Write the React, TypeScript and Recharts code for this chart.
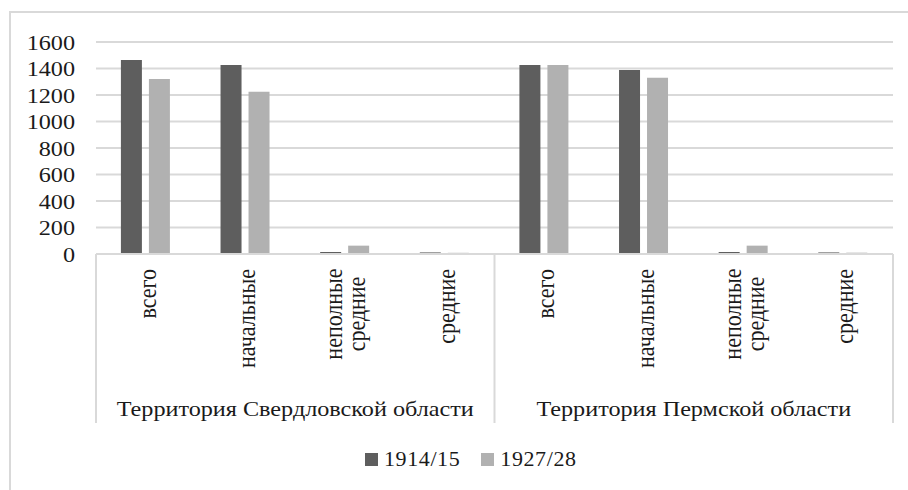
import React from "react";
import { BarChart, Bar, XAxis, YAxis, CartesianGrid, Legend } from "recharts";

const categories = ["всего", "начальные", "неполные средние", "средние"];
const regions = ["Территория Свердловской области", "Территория Пермской области"];
const seriesNames = ["1914/15", "1927/28"];
const sverdlovsk1914 = [1464, 1426, 15, 12];
const sverdlovsk1927 = [1321, 1225, 63, 9];
const perm1914 = [1426, 1389, 15, 12];
const perm1927 = [1426, 1331, 63, 10];
const yTicks = [0, 200, 400, 600, 800, 1000, 1200, 1400, 1600];

const FONT = '"Liberation Serif", "Times New Roman", serif';
const TEXT = "#1a1a1a";
const LINE = "#d9d9d9";
const SX = 1.1; // the source picture is a bit wider than tall
const textStyle = { fontFamily: FONT, fontSize: 22, fill: TEXT };

const data = regions.flatMap((region, ri) =>
  categories.map((label, ci) => ({
    label,
    group: region,
    v1914: ri === 0 ? sverdlovsk1914[ci] : perm1914[ci],
    v1927: ri === 0 ? sverdlovsk1927[ci] : perm1927[ci],
  }))
);

// rotated category labels + the divider lines of the category box
function CategoryTick(props: any) {
  const { x, y, payload, index } = props;
  const half = payload?.offset ?? 49.8;
  const lines = String(payload.value).split(" ");
  return (
    <g>
      {lines.length === 1 ? (
        <text
          style={textStyle}
          x={0}
          y={0}
          textAnchor="end"
          transform={`translate(${x + 10} ${y + 15}) scale(${SX} 1) rotate(-90)`}
        >
          {lines[0]}
        </text>
      ) : (
        lines.map((ln, i) => (
          <text
            key={i}
            style={textStyle}
            x={0}
            y={0}
            textAnchor="middle"
            transform={`translate(${x - 3 + i * 23} ${y + 60}) scale(${SX} 1) rotate(-90)`}
          >
            {ln}
          </text>
        ))
      )}
      {index === 0 && (
        <line x1={x - half} x2={x - half} y1={y} y2={y + 169} stroke={LINE} strokeWidth={2} />
      )}
      {(index === 3 || index === 7) && (
        <line x1={x + half} x2={x + half} y1={y} y2={y + 169} stroke={LINE} strokeWidth={2} />
      )}
    </g>
  );
}

function GroupTick(props: any) {
  const { x, y, payload, index } = props;
  if (index % 4 !== 0) return <g />;
  const half = payload?.offset ?? 49.8;
  return (
    <text
      style={textStyle}
      x={0}
      y={0}
      textAnchor="middle"
      transform={`translate(${x + 3 * half} ${y + 32}) scale(${SX} 1)`}
    >
      {payload.value}
    </text>
  );
}

function ValueTick(props: any) {
  const { x, y, payload } = props;
  return (
    <text
      style={textStyle}
      x={0}
      y={0}
      dy="0.35em"
      textAnchor="end"
      transform={`translate(${x} ${y}) scale(${SX} 1)`}
    >
      {payload.value}
    </text>
  );
}

function LegendContent(props: any) {
  const items = props.payload || [];
  return (
    <div style={{ display: "flex", alignItems: "center", paddingLeft: 365, fontFamily: FONT, fontSize: 22, color: TEXT, lineHeight: "22px" }}>
      {items.map((it: any, i: number) => (
        <div key={i} style={{ display: "flex", alignItems: "center", marginRight: 21 }}>
          <span style={{ width: 13, height: 13, background: it.color, marginRight: 6, display: "inline-block" }} />
          <span style={{ letterSpacing: 0.6 }}>{it.value}</span>
        </div>
      ))}
    </div>
  );
}

export default function App() {
  return (
    <div style={{ position: "absolute", left: 0, top: 0, width: 908, height: 490, overflow: "hidden", background: "#fff" }}>
      <div
        style={{
          position: "absolute",
          left: 9,
          top: 11,
          width: 1000,
          height: 1000,
          borderTop: `2px solid ${LINE}`,
          borderLeft: `2px solid ${LINE}`,
        }}
      />
      <BarChart
        width={908}
        height={490}
        data={data}
        margin={{ top: 42, right: 15, bottom: 67, left: 0 }}
        barCategoryGap="25%"
        barGap={7}
      >
        <CartesianGrid xAxisId="cat" vertical={false} stroke={LINE} strokeWidth={2} />
        <XAxis
          xAxisId="cat"
          dataKey="label"
          height={130}
          interval={0}
          tickLine={false}
          tickSize={0}
          tickMargin={0}
          axisLine={{ stroke: LINE, strokeWidth: 2 }}
          tick={<CategoryTick />}
        />
        <XAxis
          xAxisId="g"
          dataKey="group"
          height={39}
          interval={0}
          tickLine={false}
          tickSize={0}
          tickMargin={0}
          axisLine={false}
          tick={<GroupTick />}
        />
        <YAxis
          width={96}
          domain={[0, 1600]}
          ticks={yTicks}
          interval={0}
          axisLine={false}
          tickLine={false}
          tickSize={0}
          tickMargin={21}
          tick={<ValueTick />}
        />
        <Bar xAxisId="cat" dataKey="v1914" name={seriesNames[0]} fill="#5e5e5e" isAnimationActive={false} />
        <Bar xAxisId="cat" dataKey="v1927" name={seriesNames[1]} fill="#b1b1b1" isAnimationActive={false} />
        <Legend
          layout="horizontal"
          verticalAlign="middle"
          align="center"
          wrapperStyle={{ left: 0, top: 448, width: 908 }}
          content={<LegendContent />}
        />
      </BarChart>
    </div>
  );
}
